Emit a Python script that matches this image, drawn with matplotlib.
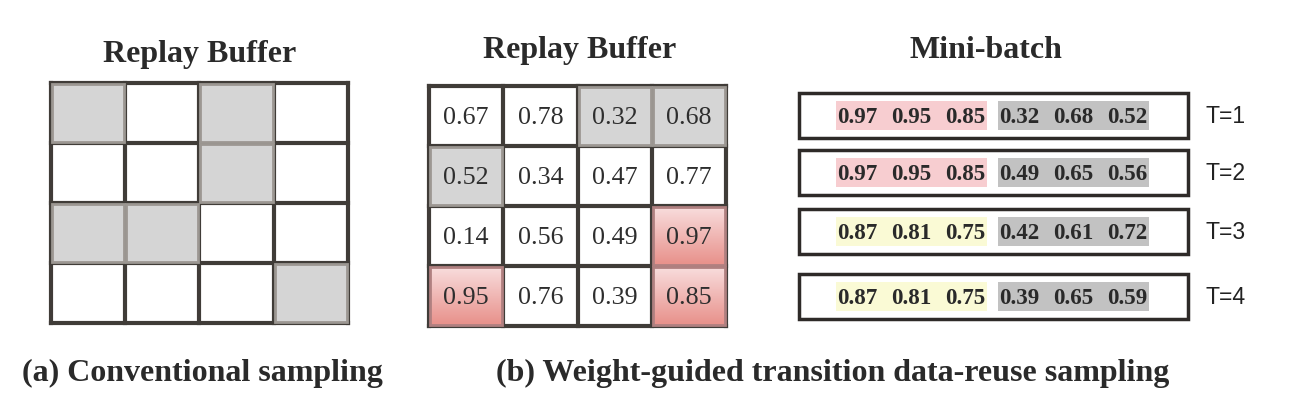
import numpy as np
import matplotlib.pyplot as plt
from matplotlib.patches import Rectangle

# ---- data ----
left_sel = [[1, 0, 1, 0],
            [0, 0, 1, 0],
            [1, 1, 0, 0],
            [0, 0, 0, 1]]
mid_vals = [[0.67, 0.78, 0.32, 0.68],
            [0.52, 0.34, 0.47, 0.77],
            [0.14, 0.56, 0.49, 0.97],
            [0.95, 0.76, 0.39, 0.85]]
# '' plain, 'g' randomly sampled, 'r' high weight
mid_tag = [['', '', 'g', 'g'],
           ['g', '', '', ''],
           ['', '', '', 'r'],
           ['r', '', '', 'r']]
batch_high = [[0.97, 0.95, 0.85],
              [0.97, 0.95, 0.85],
              [0.87, 0.81, 0.75],
              [0.87, 0.81, 0.75]]
batch_rand = [[0.32, 0.68, 0.52],
              [0.49, 0.65, 0.56],
              [0.42, 0.61, 0.72],
              [0.39, 0.65, 0.59]]
high_col = ['#f7cdd0', '#f7cdd0', '#fafad5', '#fafad5']
t_labels = ['T=1', 'T=2', 'T=3', 'T=4']

def pt(px):
    return px * 0.72

fig = plt.figure(figsize=(12.92, 4.14), dpi=100)
ax = fig.add_axes([0, 0, 1, 1])
ax.set_xlim(0, 1292)
ax.set_ylim(414, 0)
ax.axis('off')

line_c = '#403c38'
gray_fill = '#d5d5d5'
gray_edge = '#9c9792'
serif = 'Liberation Serif'

def grid(x0, y0, cw, ch):
    for i in range(5):
        ax.plot([x0, x0 + 4 * cw], [y0 + i * ch] * 2, color=line_c, lw=3, solid_capstyle='projecting', zorder=2)
        ax.plot([x0 + i * cw] * 2, [y0, y0 + 4 * ch], color=line_c, lw=3, solid_capstyle='projecting', zorder=2)

# (a) conventional sampling
ax0, ay0, acw, ach = 51, 84, 74.2, 60
grid(ax0, ay0, acw, ach)
for r in range(4):
    for c in range(4):
        if left_sel[r][c]:
            ax.add_patch(Rectangle((ax0 + c * acw + 1, ay0 + r * ach + 1), acw - 2, ach - 2,
                                   facecolor=gray_fill, edgecolor=gray_edge, lw=2, zorder=3))

# (b) replay buffer with weights
bx0, by0, bcw, bch = 429, 87, 74.3, 60
grad = np.linspace(0, 1, 50).reshape(-1, 1)
from matplotlib.colors import LinearSegmentedColormap
red_cm = LinearSegmentedColormap.from_list('rg', ['#f8dcdc', '#e8918b'])
grid(bx0, by0, bcw, bch)
for r in range(4):
    for c in range(4):
        x = bx0 + c * bcw
        y = by0 + r * bch
        tag = mid_tag[r][c]
        if tag == 'g':
            ax.add_patch(Rectangle((x + 1, y + 1), bcw - 2, bch - 2,
                                   facecolor=gray_fill, edgecolor=gray_edge, lw=2, zorder=3))
        elif tag == 'r':
            ax.imshow(grad, cmap=red_cm, aspect='auto', extent=(x + 1, x + bcw - 1, y + bch - 1, y + 1),
                      zorder=3)
            ax.add_patch(Rectangle((x + 1, y + 1), bcw - 2, bch - 2,
                                   facecolor='none', edgecolor='#b08080', lw=2, zorder=4))
        ax.text(x + bcw / 2, y + bch / 2 + 1, '%.2f' % mid_vals[r][c], ha='center', va='center',
                family=serif, fontsize=pt(26), color='#2e2e2e', zorder=5)
ax.set_xlim(0, 1292)
ax.set_ylim(414, 0)

# mini-batch rows
box_x0, box_x1 = 799, 1188
row_top = [94, 151, 210, 275]
row_h = 45
num_x0, num_dx = 857, 54
for k in range(4):
    y = row_top[k]
    ax.add_patch(Rectangle((box_x0, y), box_x1 - box_x0, row_h, facecolor='white',
                           edgecolor='#2e2a28', lw=2.5, zorder=2))
    yc = y + row_h / 2
    ax.add_patch(Rectangle((836, yc - 14.5), 151, 29, facecolor=high_col[k], edgecolor='none', zorder=3))
    ax.add_patch(Rectangle((998, yc - 14.5), 151, 29, facecolor='#c2c2c2', edgecolor='none', zorder=3))
    vals = batch_high[k] + batch_rand[k]
    for j, v in enumerate(vals):
        ax.text(num_x0 + j * num_dx, yc + 1, '%.2f' % v, ha='center', va='center', family=serif,
                fontweight='bold', fontsize=pt(23), color='#2a2a2a', zorder=4)
    ax.text(1206, yc, t_labels[k], ha='left', va='center', family='Liberation Sans',
            fontsize=pt(23), color='#222222')

# titles and captions
ttl = dict(family=serif, fontweight='bold', fontsize=pt(32), color='#2a2a2a', ha='center', va='baseline')
ax.text(200, 62, 'Replay Buffer', **ttl)
ax.text(580, 58, 'Replay Buffer', **ttl)
ax.text(986, 58, 'Mini-batch', **ttl)
ax.text(202, 381, '(a) Conventional sampling', **ttl)
ax.text(833, 381, '(b) Weight-guided transition data-reuse sampling', **ttl)

fig.savefig('out.png', dpi=100)
